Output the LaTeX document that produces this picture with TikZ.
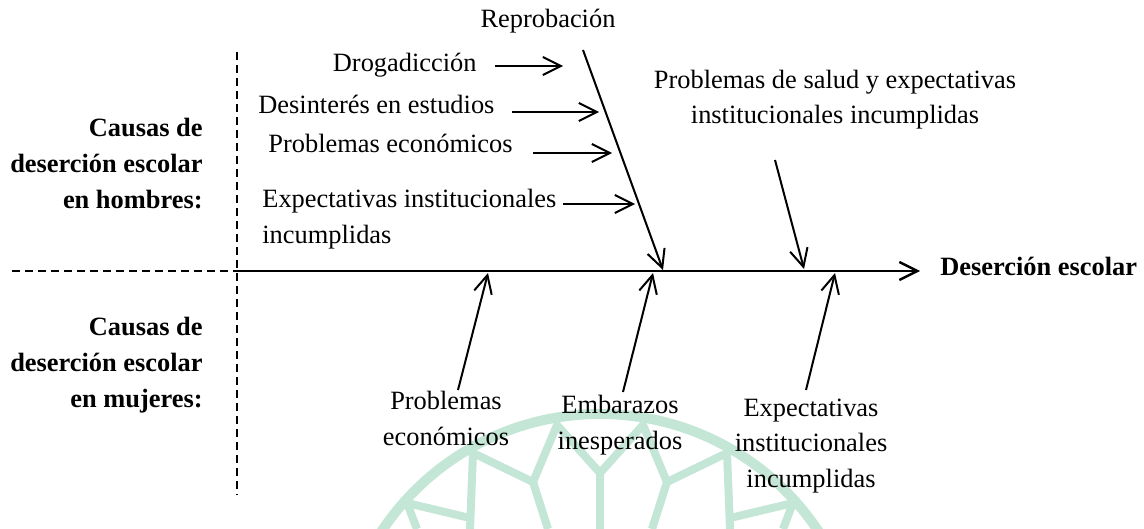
\documentclass[tikz,border=0pt]{standalone}
\usepackage{fontspec}
\setmainfont{Liberation Serif}
\usetikzlibrary{arrows.meta}
\definecolor{sello}{RGB}{196,230,214}
\begin{document}
\begin{tikzpicture}[x=0.5pt,y=-0.5pt]
\tikzstyle{every node}+=[inner sep=0pt, font=\fontsize{13.2}{17.6}\selectfont]
\tikzstyle{flecha}=[black, line width=1pt, -{Straight Barb[length=9pt,width=9pt]}]
\tikzstyle{titulo}=[font=\fontsize{13.2}{18}\selectfont\bfseries, align=right, anchor=base east]
\tikzstyle{corte}=[black, line width=0.8pt, dash pattern=on 4pt off 2.5pt]
\useasboundingbox (0,0) rectangle (1144,529);
\begin{scope}
\clip (0,0) rectangle (1144,529);
\draw [sello, line width=5pt] (600,676) circle (262);
\draw [sello, line width=4pt] (600,529) -- (600,473) -- (557,425) -- (533,482) -- (473,453) -- (470,529);
\draw [sello, line width=4pt] (600,473) -- (643,425) -- (667,482) -- (727,453) -- (730,529);
\draw [sello, line width=4pt] (533,482) -- (548,529);
\draw [sello, line width=4pt] (667,482) -- (652,529);
\draw [sello, line width=4pt] (417,529) -- (407,503) -- (470,518);
\draw [sello, line width=4pt] (783,529) -- (793,503) -- (730,518);
\end{scope}
\draw [corte] (237,52) -- (237,495);
\draw [corte] (12,271) -- (237,271);
\node [titulo] (hombres) at (203,209) {Causas de\\deserción escolar\\en hombres:};
\node [titulo] (mujeres) at (203,407) {Causas de\\deserción escolar\\en mujeres:};
\coordinate (inicio) at (237,271);
\coordinate (fin) at (920,271);
\draw [flecha, line width=1.2pt] (inicio) -- (fin);
\node [anchor=base west, font=\fontsize{13.2}{17.6}\selectfont\bfseries] (desercion) at (940,275) {Deserción escolar};
\node [anchor=base] (reprob) at (548,28) {Reprobación};
\coordinate (r1) at (583,50);
\coordinate (r2) at (663,270);
\draw [flecha] (r1) -- (r2);
\node [anchor=base east] (drog) at (477,72) {Drogadicción};
\node [anchor=base west] (desint) at (258,114) {Desinterés en estudios};
\node [anchor=base west] (probh) at (268,153) {Problemas económicos};
\node [anchor=base west, align=left] (expech) at (262,243) {Expectativas institucionales\\incumplidas};
\coordinate (d1) at (563,66);
\coordinate (d2) at (599,112);
\coordinate (d3) at (612,153);
\coordinate (d4) at (635,204);
\draw [flecha] (495,66) -- (d1);
\draw [flecha] (512,112) -- (d2);
\draw [flecha] (533,153) -- (d3);
\draw [flecha] (563,204) -- (d4);
\node [anchor=base, align=center] (probsal) at (835,124) {Problemas de salud y expectativas\\institucionales incumplidas};
\coordinate (s1) at (775,160);
\coordinate (s2) at (804,269);
\draw [flecha] (s1) -- (s2);
\node [anchor=base, align=center] (probm) at (446,445) {Problemas\\económicos};
\node [anchor=base, align=center] (embar) at (620,449) {Embarazos\\inesperados};
\node [anchor=base, align=center] (expecm) at (811,487) {Expectativas\\institucionales\\incumplidas};
\coordinate (m1) at (488,273);
\coordinate (m2) at (653,273);
\coordinate (m3) at (835,273);
\draw [flecha] (458,390) -- (m1);
\draw [flecha] (623,392) -- (m2);
\draw [flecha] (806,390) -- (m3);
\end{tikzpicture}
\end{document}
